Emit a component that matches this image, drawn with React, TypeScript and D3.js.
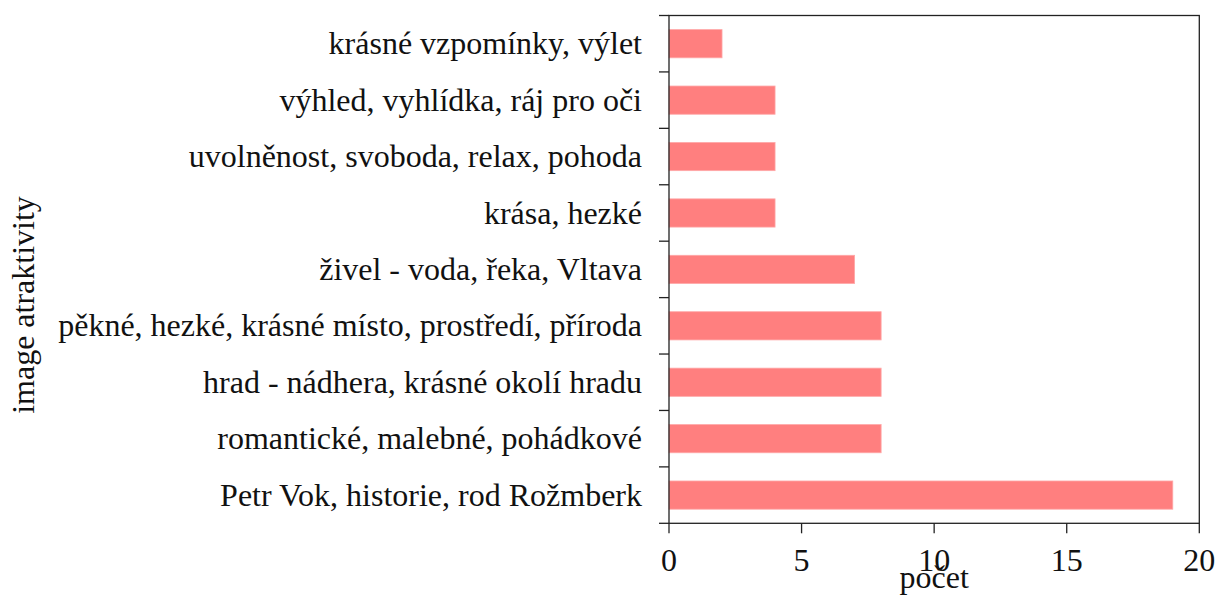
import React from "react";
import * as d3 from "d3";

const categories = [
  "krásné vzpomínky, výlet",
  "výhled, vyhlídka, ráj pro oči",
  "uvolněnost, svoboda, relax, pohoda",
  "krása, hezké",
  "živel - voda, řeka, Vltava",
  "pěkné, hezké, krásné místo, prostředí, příroda",
  "hrad - nádhera, krásné okolí hradu",
  "romantické, malebné, pohádkové",
  "Petr Vok, historie, rod Rožmberk",
];
const values = [2, 4, 4, 4, 7, 8, 8, 8, 19];
const xTicks = [0, 5, 10, 15, 20];
const xLabel = "počet";
const yLabel = "image atraktivity";

const W = 1216;
const H = 597;
const left = 669;
const right = 1199.3;
const top = 15.5;
const bottom = 523.3;
const FONT = "'Liberation Serif', 'Times New Roman', serif";
const FS = 32;
const AX = "#222";

export default function App() {
  const x = d3.scaleLinear().domain([0, 20]).range([left, right]);
  const y = d3
    .scaleBand<string>()
    .domain(categories)
    .range([top, bottom])
    .paddingInner(0.5)
    .paddingOuter(0.25);
  const step = y.step();
  const boundaries = d3.range(categories.length + 1).map((i) => top + i * step);

  return (
    <svg
      width={W}
      height={H}
      style={{ position: "absolute", left: 0, top: 0, background: "#fff" }}
      fontFamily={FONT}
    >
      <rect x={0} y={0} width={W} height={H} fill="#fff" />
      {categories.map((c, i) => (
        <rect
          key={c}
          x={x(0)}
          y={y(c)}
          width={x(values[i]) - x(0)}
          height={y.bandwidth()}
          fill="#FF7F7F"
          stroke="#FFA8A8"
          strokeWidth={0.8}
        />
      ))}
      <rect
        x={left}
        y={top}
        width={right - left}
        height={bottom - top}
        fill="none"
        stroke={AX}
        strokeWidth={1.3}
      />
      {boundaries.map((b, i) => (
        <line key={i} x1={left - 10} x2={left} y1={b} y2={b} stroke={AX} strokeWidth={1.3} />
      ))}
      {categories.map((c) => (
        <text
          key={c}
          x={642}
          y={(y(c) as number) + y.bandwidth() / 2}
          dy="0.33em"
          textAnchor="end"
          fontSize={FS}
          fill="#111"
        >
          {c}
        </text>
      ))}
      {xTicks.map((t) => (
        <g key={t}>
          <line x1={x(t)} x2={x(t)} y1={bottom} y2={bottom + 10} stroke={AX} strokeWidth={1.3} />
          <text x={x(t)} y={571} textAnchor="middle" fontSize={FS} fill="#111">
            {t}
          </text>
        </g>
      ))}
      <text x={(left + right) / 2} y={588} textAnchor="middle" fontSize={FS} fill="#111">
        {xLabel}
      </text>
      <text
        transform={`translate(34, 305) rotate(-90)`}
        textAnchor="middle"
        fontSize={FS}
        fill="#111"
      >
        {yLabel}
      </text>
    </svg>
  );
}
